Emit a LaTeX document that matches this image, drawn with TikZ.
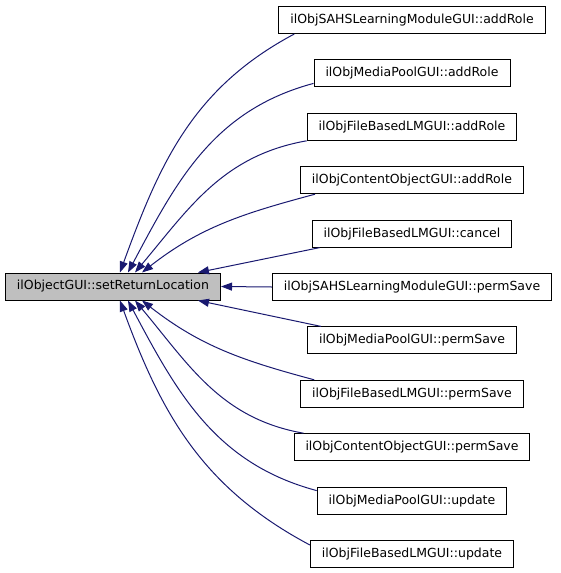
\documentclass[tikz,border=0pt]{standalone}
\usepackage{fontspec}
\setmainfont{DejaVu Sans}
\usetikzlibrary{arrows.meta}
\definecolor{edgeblue}{HTML}{191970}
\definecolor{nodegray}{HTML}{BFBFBF}

\begin{document}
\begin{tikzpicture}[x=1pt,y=1pt,
  fn/.style={draw=black,line width=1pt,minimum height=27pt,inner xsep=11.5pt,
    font=\fontsize{12.5}{14}\selectfont},
  call/.style={draw=edgeblue,line width=1pt,-{Triangle[length=11pt,width=8pt,fill=edgeblue]}}]
  \useasboundingbox (0,0) rectangle (560,-573);

  % Function being documented
  \node[fn,fill=nodegray] (sr) at (113,-286.5) {ilObjectGUI::setReturnLocation};

  % Callers
  \foreach \i/\lab in {1/{ilObjSAHSLearningModuleGUI::addRole},2/{ilObjMediaPoolGUI::addRole},
    3/{ilObjFileBasedLMGUI::addRole},4/{ilObjContentObjectGUI::addRole},
    5/{ilObjFileBasedLMGUI::cancel},6/{ilObjSAHSLearningModuleGUI::permSave},
    7/{ilObjMediaPoolGUI::permSave},8/{ilObjFileBasedLMGUI::permSave},
    9/{ilObjContentObjectGUI::permSave},10/{ilObjMediaPoolGUI::update},
    11/{ilObjFileBasedLMGUI::update}}
    \node[fn] (r\i) at (412,{-20-53.4*(\i-1)}) {\lab};

  % Upper calls
  \draw[call] ([xshift=16pt]r1.south west) to[out=208,in=70] ([xshift=115pt]sr.north west);
  \draw[call] ([yshift=4pt]r2.south west) to[out=195,in=62] ([xshift=123pt]sr.north west);
  \draw[call] (r3.south west) to[out=190,in=50] ([xshift=130pt]sr.north west);
  \draw[call] ([xshift=15pt]r4.south west) to[out=195,in=38] ([xshift=137pt]sr.north west);
  \draw[call] ([xshift=8pt]r5.south west) -- ([xshift=193pt]sr.north west);
  \draw[call] (r6.west) -- (sr.east);

  % Lower calls
  \draw[call] ([xshift=14pt]r7.north west) -- ([xshift=193pt]sr.south west);
  \draw[call] ([xshift=14pt]r8.north west) to[out=165,in=-38] ([xshift=137pt]sr.south west);
  \draw[call] ([xshift=10pt]r9.north west) to[out=170,in=-50] ([xshift=130pt]sr.south west);
  \draw[call] ([yshift=-4pt]r10.north west) to[out=165,in=-62] ([xshift=123pt]sr.south west);
  \draw[call] ([yshift=-5pt]r11.north west) to[out=152,in=-70] ([xshift=115pt]sr.south west);
\end{tikzpicture}
\end{document}
